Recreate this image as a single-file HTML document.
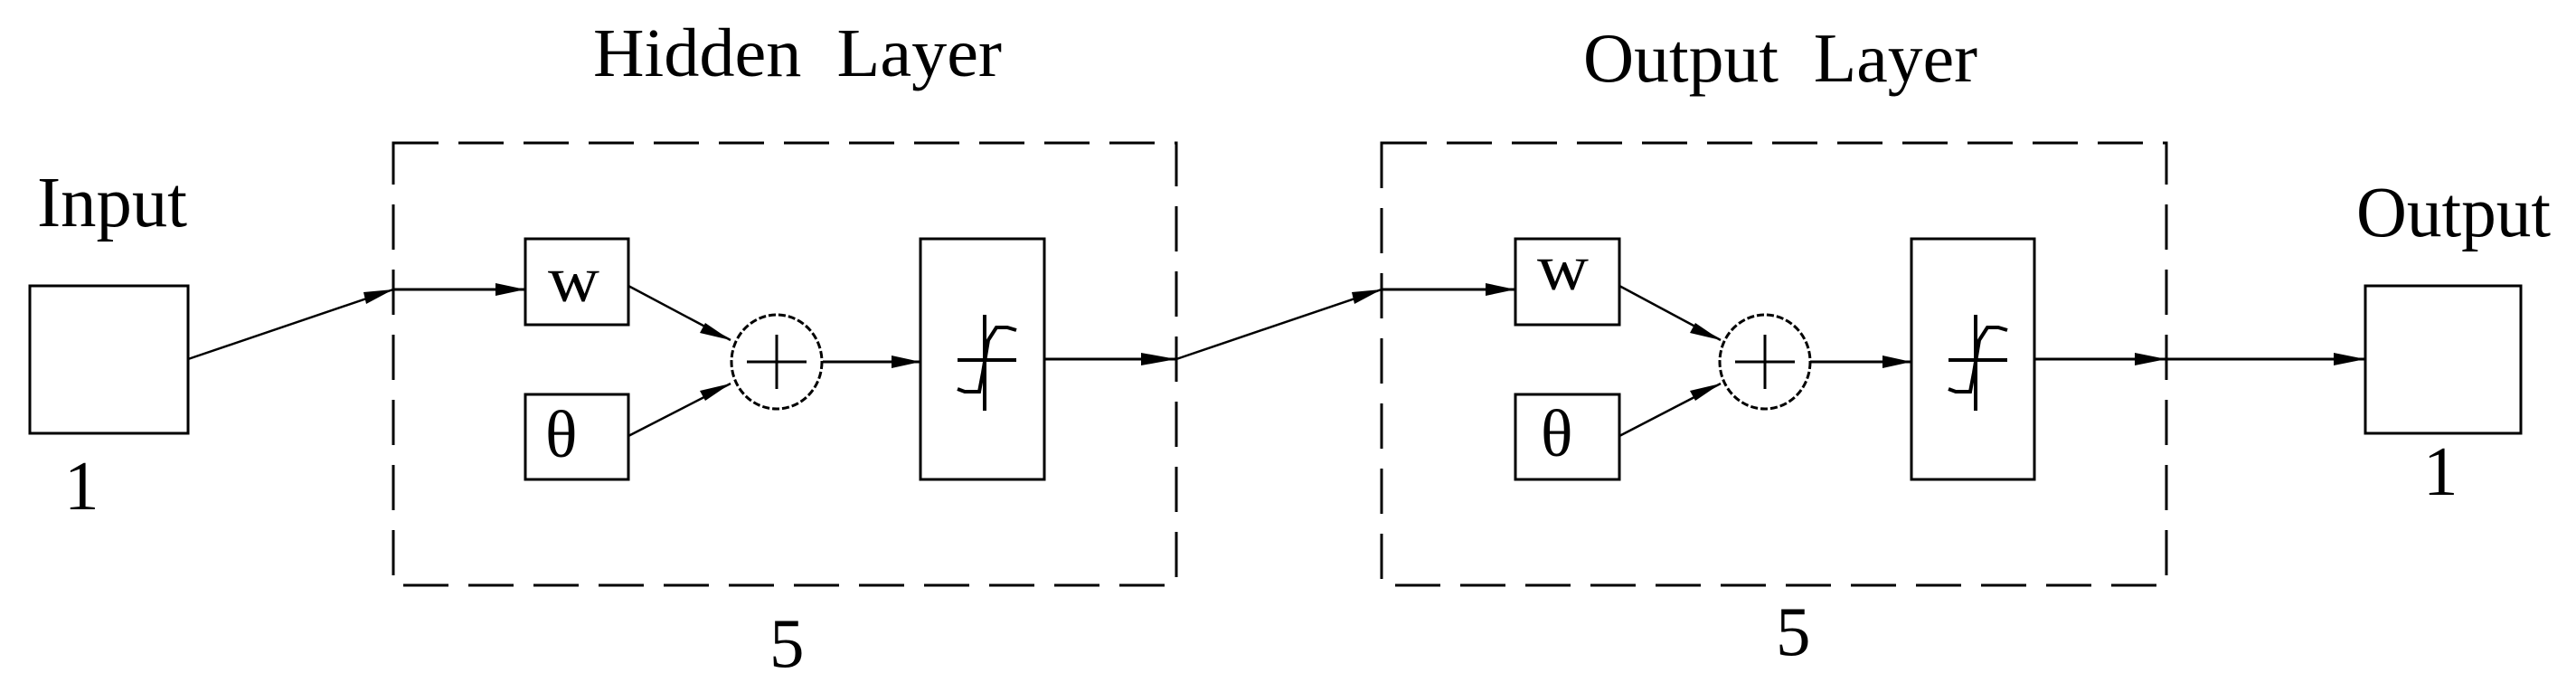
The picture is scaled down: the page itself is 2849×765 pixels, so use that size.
<!DOCTYPE html>
<html><head><meta charset="utf-8"><style>
html,body{margin:0;padding:0;background:#fff;}
svg{display:block}
text{font-family:"Liberation Serif",serif;fill:#000}
</style></head><body>
<svg width="2849" height="765" viewBox="0 0 2849 765" xmlns="http://www.w3.org/2000/svg">
<g fill="none" stroke="#000" stroke-width="3">
<rect x="33" y="316" width="175" height="163"/>
<rect x="2616" y="316" width="172" height="163"/>
<rect x="435" y="158" width="866" height="489" stroke-dasharray="50,22"/>
<rect x="1528" y="158" width="868" height="489" stroke-dasharray="50,22"/>
<rect x="581" y="264" width="114" height="95"/>
<rect x="581" y="436" width="114" height="94"/>
<rect x="1676" y="264" width="115" height="95"/>
<rect x="1676" y="436" width="115" height="94"/>
<ellipse cx="859" cy="400" rx="50" ry="52" stroke-dasharray="8,3"/>
<ellipse cx="1952" cy="400" rx="50" ry="52" stroke-dasharray="8,3"/>
<line x1="826" y1="400" x2="892" y2="400"/><line x1="859" y1="370" x2="859" y2="430"/>
<line x1="1919" y1="400" x2="1985" y2="400"/><line x1="1952" y1="370" x2="1952" y2="430"/>
<rect x="1018" y="264" width="137" height="266"/>
<rect x="2114" y="264" width="136" height="266"/>
<g stroke-width="4">
<line x1="1089" y1="348" x2="1089" y2="454"/><line x1="1059" y1="398" x2="1124" y2="398"/>
<path d="M1059 430 L1067 433 L1083 433 L1087 412 L1093 376 L1102 362 L1114 362 L1124 365"/>
<line x1="2185" y1="348" x2="2185" y2="454"/><line x1="2155" y1="398" x2="2220" y2="398"/>
<path d="M2155 430 L2163 433 L2179 433 L2183 412 L2189 376 L2198 362 L2210 362 L2220 365"/>
</g>
<line x1="208" y1="397" x2="435" y2="320" stroke-width="2.5"/>
<line x1="435" y1="320" x2="581" y2="320"/>
<line x1="695" y1="316" x2="808" y2="376" stroke-width="2.5"/>
<line x1="695" y1="482" x2="808" y2="424" stroke-width="2.5"/>
<line x1="910" y1="400" x2="1018" y2="400"/>
<line x1="1155" y1="397" x2="1301" y2="397"/>
<line x1="1301" y1="397" x2="1528" y2="320" stroke-width="2.5"/>
<line x1="1528" y1="320" x2="1676" y2="320"/>
<line x1="1791" y1="316" x2="1903" y2="376" stroke-width="2.5"/>
<line x1="1791" y1="482" x2="1903" y2="424" stroke-width="2.5"/>
<line x1="2002" y1="400" x2="2114" y2="400"/>
<line x1="2250" y1="397" x2="2616" y2="397"/>
</g>
<g fill="#000">
<polygon points="435,320 402,323 405,336" />
<polygon points="581,320 548,313 548,327"/>
<polygon points="808,376 780,357 774,368"/>
<polygon points="808,424 774,432 780,443"/>
<polygon points="1018,400 986,393 986,407"/>
<polygon points="1301,397 1262,390 1262,404"/>
<polygon points="1528,320 1495,323 1498,336"/>
<polygon points="1676,320 1643,313 1643,327"/>
<polygon points="1903,376 1875,357 1869,368"/>
<polygon points="1903,424 1869,432 1875,443"/>
<polygon points="2114,400 2082,393 2082,407"/>
<polygon points="2396,397 2361,390 2361,404"/>
<polygon points="2616,397 2581,390 2581,404"/>
</g>
<text x="656" y="84" font-size="76" textLength="452" lengthAdjust="spacingAndGlyphs" xml:space="preserve">Hidden  Layer</text>
<text x="1751" y="90" font-size="77" textLength="436" lengthAdjust="spacingAndGlyphs" xml:space="preserve">Output  Layer</text>
<text x="41" y="250" font-size="79" textLength="166" lengthAdjust="spacingAndGlyphs">Input</text>
<text x="2606" y="261" font-size="79" textLength="215" lengthAdjust="spacingAndGlyphs">Output</text>
<text x="71" y="563" font-size="77">1</text>
<text x="2680" y="547" font-size="77">1</text>
<text x="851" y="737" font-size="77">5</text>
<text x="1964" y="724" font-size="77">5</text>
<text x="606" y="333" font-size="72" textLength="57" lengthAdjust="spacingAndGlyphs">w</text>
<text x="1700" y="320" font-size="72" textLength="57" lengthAdjust="spacingAndGlyphs">w</text>
<text x="603" y="505" font-size="74">θ</text>
<text x="1704" y="504" font-size="74">θ</text>
</svg>
</body></html>
